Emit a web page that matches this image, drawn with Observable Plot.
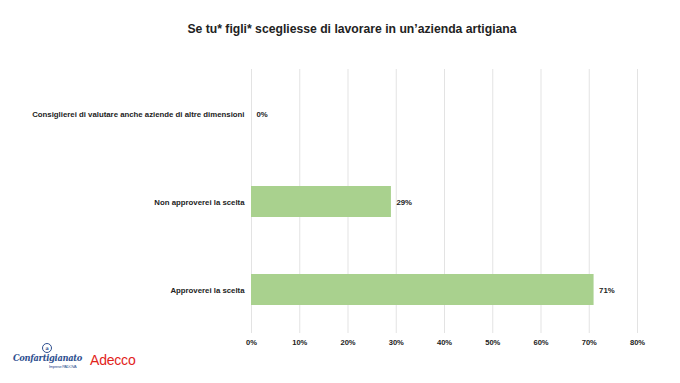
<!DOCTYPE html>
<html>
<head>
<meta charset="utf-8">
<script src="https://cdn.jsdelivr.net/npm/d3@7"></script>
<script src="https://cdn.jsdelivr.net/npm/@observablehq/plot@0.6"></script>
<style>
  html, body { margin: 0; padding: 0; background: #fff; }
  #wrap { position: relative; width: 680px; height: 383px; overflow: hidden; font-family: "Liberation Sans", Arial, sans-serif; }
  #title { position: absolute; left: 24px; top: 22px; width: 656px; text-align: center; font-weight: bold; font-size: 12.2px; color: #222; }
  #chart { position: absolute; left: 0; top: 50px; }
  #logo1 { position: absolute; left: 13px; top: 353px; color: #2e4f8f; font-family: "DejaVu Serif", serif; font-style: italic; font-weight: bold; font-size: 8.3px; letter-spacing: -0.3px; white-space: nowrap; }
  #logo1 .ring { position: absolute; left: 29px; top: -10px; width: 8px; height: 8px; border: 1px solid #2e4f8f; border-radius: 50%; font-size: 5px; text-align: center; line-height: 8px; font-style: normal; }
  #logo1 .sub { position: absolute; left: 36px; top: 11px; font-family: "Liberation Sans", Arial, sans-serif; font-style: normal; font-weight: normal; font-size: 4px; color: #2e4f8f; white-space: nowrap; }
  #logo2 { position: absolute; left: 90px; top: 352px; color: #e2231a; font-family: "Liberation Sans", Arial, sans-serif; font-size: 14px; letter-spacing: -0.2px; }
</style>
</head>
<body>
<div id="wrap">
  <div id="title">Se tu* figli* scegliesse di lavorare in un’azienda artigiana</div>
  <div id="chart"></div>
  <div id="logo1"><span class="ring">a</span>Confartigianato<span class="sub">Imprese PADOVA</span></div>
  <div id="logo2">Adecco</div>
</div>
<script>
const categories = [
  "Consiglierei di valutare anche aziende di altre dimensioni",
  "Non approverei la scelta",
  "Approverei la scelta"
];
const values = [0, 29, 71];
const tickValues = [0, 10, 20, 30, 40, 50, 60, 70, 80];
const tickLabels = ["0%", "10%", "20%", "30%", "40%", "50%", "60%", "70%", "80%"];

const data = categories.map((c, i) => ({category: c, value: values[i]}));

const chart = Plot.plot({
  width: 680,
  height: 333,
  marginLeft: 251,
  marginRight: 43,
  marginTop: 19,
  marginBottom: 50,
  style: {fontFamily: "Liberation Sans, Arial, sans-serif", fontWeight: "bold", fontSize: "7.5px", color: "#222", background: "#fff"},
  x: {domain: [0, 80], axis: null, label: null},
  y: {domain: categories, paddingInner: 0.65, paddingOuter: 0.325, axis: null, label: null},
  marks: [
    Plot.ruleX(tickValues, {x: d => d, stroke: "#e3e3e3", strokeWidth: 1}),
    Plot.barX(data, {y: "category", x: "value", fill: "#a9d18e"}),
    Plot.text(data, {y: "category", x: "value", text: d => d.value + "%", textAnchor: "start", dx: 5, fill: "#222", fontWeight: "bold", fontSize: 7.8}),
    Plot.text(data, {y: "category", x: 0, text: "category", textAnchor: "end", dx: -7, fill: "#222", fontWeight: "bold", fontSize: 7.8}),
    Plot.axisX({ticks: tickValues, tickFormat: d => tickLabels[tickValues.indexOf(d)], tickSize: 0, tickPadding: 6, anchor: "bottom", label: null, fontWeight: "bold", fontSize: 7.6, fill: "#222"})
  ]
});
document.getElementById("chart").appendChild(chart);
</script>
</body>
</html>
